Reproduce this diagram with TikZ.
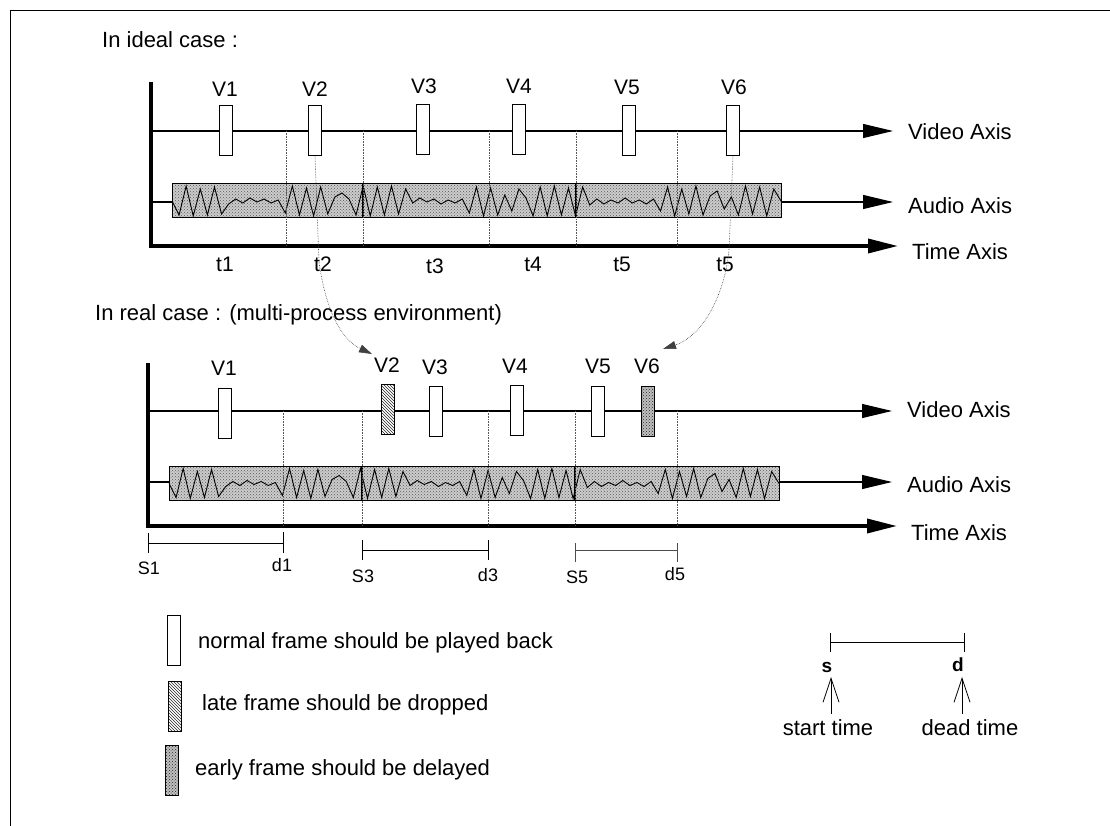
\documentclass[tikz,border=0pt]{standalone}
\usepackage{fontspec}
\setmainfont{Liberation Sans}
\usetikzlibrary{arrows.meta,patterns}
\begin{document}
\begin{tikzpicture}[x=1pt,y=-1pt,
  bigfont/.style={font=\fontsize{22}{26}\selectfont, inner sep=0pt},
  lab/.style={font=\fontsize{21}{24}\selectfont, inner sep=0pt},
  smalllab/.style={font=\fontsize{18}{21}\selectfont, inner sep=0pt},
  boldlab/.style={font=\bfseries\fontsize{19}{22}\selectfont, inner sep=0pt},
  frm/.style={draw, line width=1pt, minimum width=13pt, minimum height=50pt, inner sep=0pt},
  normalfrm/.style={frm, fill=white},
  latefrm/.style={frm, preaction={fill=white}, pattern=north west lines, pattern color=black!85},
  earlyfrm/.style={frm, preaction={fill=gray!50}, pattern=crosshatch dots, pattern color=black!85},
  audiobox/.style={draw, line width=1pt, inner sep=0pt, minimum height=34pt, preaction={fill=gray!40}, pattern=crosshatch dots, pattern color=black!65},
  axisthin/.style={line width=1.1pt, -{Triangle[length=30pt,width=14pt]}},
  axisthick/.style={line width=3.5pt, -{Triangle[length=30pt,width=14pt]}},
  vaxis/.style={line width=3.5pt},
  guide/.style={densely dotted, line width=0.6pt, black!65},
  curvearrow/.style={densely dotted, line width=0.6pt, black!75, -{Triangle[length=13pt,width=8pt]}},
  wave/.style={line width=0.9pt},
  bar/.style={line width=0.9pt},
  uparrow/.style={line width=0.8pt, -{Straight Barb[length=24pt,width=16pt]}}
]
\useasboundingbox (0,0) rectangle (1110,826);
% border
\draw[line width=0.8pt] (10,826) -- (10,10) -- (1110,10);

% ================= TOP PANEL =================
\node[bigfont, anchor=west] (title1) at (102,40) {In ideal case :};

\coordinate (ya1) at (151,82);
\coordinate (o1) at (151,246);
\coordinate (ta1) at (898,246);
\coordinate (vs1) at (151,131);
\coordinate (ve1) at (893,131);
\coordinate (as1) at (151,202);
\coordinate (ae1) at (893,202);

\draw[axisthin] (vs1) -- (ve1);
\draw[axisthin] (as1) -- (ae1);

\node[audiobox, minimum width=609pt] (ab1) at (476.5,201) {};
\draw[wave, shift={(172,201)}] (0,0)
  \foreach \y [count=\i] in {14,-15,15,-12,14,-14,13, 3,-2,2,-3,1,-2,2,-1,
   12,-15,14,-13,15,-14,13,-4, -8,-2,14,-15,15,-14, 14,-15,13,-12,2,-3,1,-2,
   3,-1,2,-2,12,-14,15,-13, 14,-6,10,-12,-3,15,-14,15, -15,14,-13,15,-14,4,-2,3,
   -1,2,-3,2,-1,3,-2,10, -14,15,-12,13,-15,14,-5,-10, 8,-4,14,-15,13,-14,15,-12}
  { -- (\i*7.08,\y) } -- (609,0);
\draw[line width=1.2pt] (363,184) -- (363,218);
\draw[line width=1.2pt] (576,184) -- (576,218);

\draw[vaxis] (ya1) -- (o1);
\draw[axisthick] ([xshift=-1.75pt]o1) -- (ta1);

\node[bigfont, anchor=west] (vl1) at (908,132) {Video Axis};
\node[bigfont, anchor=west] (al1) at (908,206) {Audio Axis};
\node[bigfont, anchor=west] (tl1) at (912,252) {Time Axis};

\foreach \x in {286,363,489,576,677}
  \draw[guide] (\x,131) -- (\x,245);

\node[normalfrm] (a1) at (226,131) {};
\node[normalfrm] (a2) at (315,131) {};
\node[normalfrm] (a3) at (423,130) {};
\node[normalfrm] (a4) at (519,130) {};
\node[normalfrm] (a5) at (629,131) {};
\node[normalfrm] (a6) at (733,131) {};

\node[lab] (la1) at (225,89) {V1};
\node[lab] (la2) at (315,89) {V2};
\node[lab] (la3) at (424,86) {V3};
\node[lab] (la4) at (519,86) {V4};
\node[lab] (la5) at (627,87) {V5};
\node[lab] (la6) at (734,87) {V6};

\node[lab] (t1) at (225,264) {t1};
\node[lab] (t2) at (323,264) {t2};
\node[lab] (t3) at (435,266) {t3};
\node[lab] (t4) at (533,264) {t4};
\node[lab] (t5) at (622,264) {t5};
\node[lab] (t6) at (725,264) {t5};

% ================= BOTTOM PANEL =================
\node[bigfont, anchor=west] (title2) at (95,315) {In real case : (multi-process environment)};

\coordinate (yb1) at (148,363);
\coordinate (o2) at (148,526);
\coordinate (tb1) at (897,526);
\coordinate (vs2) at (148,411);
\coordinate (ve2) at (892,411);
\coordinate (as2) at (148,482);
\coordinate (ae2) at (892,482);

\draw[axisthin] (vs2) -- (ve2);
\draw[axisthin] (as2) -- (ae2);

\node[audiobox, minimum width=610pt] (ab2) at (474,483.5) {};
\draw[wave, shift={(169,483.5)}] (0,0)
  \foreach \y [count=\i] in {14,-15,15,-12,14,-14,13, 3,-2,2,-3,1,-2,2,-1,
   12,-15,14,-13,15,-14,13,-4, -8,-2,14,-15,15,-14, 14,-15,13,-12,2,-3,1,-2,
   3,-1,2,-2,12,-14,15,-13, 14,-6,10,-12,-3,15,-14,15, -15,14,-13,15,-14,4,-2,3,
   -1,2,-3,2,-1,3,-2,10, -14,15,-12,13,-15,14,-5,-10, 8,-4,14,-15,13,-14,15,-12}
  { -- (\i*7.09,\y) } -- (610,0);
\draw[line width=1.2pt] (362,466.5) -- (362,500.5);
\draw[line width=1.2pt] (575,466.5) -- (575,500.5);

\draw[vaxis] (yb1) -- (o2);
\draw[axisthick] ([xshift=-1.75pt]o2) -- (tb1);

\node[bigfont, anchor=west] (vl2) at (907,410) {Video Axis};
\node[bigfont, anchor=west] (al2) at (907,485) {Audio Axis};
\node[bigfont, anchor=west] (tl2) at (911,533) {Time Axis};

\foreach \x in {283,362,488,575,677}
  \draw[guide] (\x,411) -- (\x,525);

\node[normalfrm] (b1) at (225,413) {};
\node[latefrm]   (b2) at (388,409) {};
\node[normalfrm] (b3) at (436,411) {};
\node[normalfrm] (b4) at (517,410) {};
\node[normalfrm] (b5) at (598,411) {};
\node[earlyfrm]  (b6) at (648,411) {};

\node[lab] (lb1) at (224,368) {V1};
\node[lab] (lb2) at (387,365) {V2};
\node[lab] (lb3) at (435,367) {V3};
\node[lab] (lb4) at (515,366) {V4};
\node[lab] (lb5) at (598,366) {V5};
\node[lab] (lb6) at (647,366) {V6};

% intervals
\coordinate (s1a) at (148,533); \coordinate (s1b) at (148,553);
\coordinate (d1a) at (283,532); \coordinate (d1b) at (283,553);
\draw[bar] (s1a) -- (s1b);
\draw[bar] (d1a) -- (d1b);
\draw[bar] (148,543) -- (283,543);
\coordinate (s3a) at (362,540); \coordinate (s3b) at (362,560);
\coordinate (d3a) at (488,540); \coordinate (d3b) at (488,560);
\draw[bar] (s3a) -- (s3b);
\draw[bar] (d3a) -- (d3b);
\draw[bar] (362,550) -- (488,550);
\coordinate (s5a) at (575,543); \coordinate (s5b) at (575,562);
\coordinate (d5a) at (677,543); \coordinate (d5b) at (677,562);
\draw[bar, black!70] (s5a) -- (s5b);
\draw[bar, black!70] (d5a) -- (d5b);
\draw[bar, black!70] (575,550) -- (677,550);

\node[smalllab] (S1) at (149,568) {S1};
\node[smalllab] (D1) at (282,565) {d1};
\node[smalllab] (S3) at (363,576) {S3};
\node[smalllab] (D3) at (488,575) {d3};
\node[smalllab] (S5) at (577,577) {S5};
\node[smalllab] (D5) at (675,574) {d5};

% curved arrows
\coordinate (c1) at (372,354);
\coordinate (c2) at (663,349);
\draw[curvearrow] (a2.south) -- (319,262) .. controls (326,312) and (342,340) .. (c1);
\draw[curvearrow] (a6.south) -- (729,250) .. controls (724,300) and (700,337) .. (c2);

% ================= LEGEND =================
\node[normalfrm] (k1) at (174,640) {};
\node[latefrm]   (k2) at (175,706) {};
\node[earlyfrm]  (k3) at (172,770) {};
\node[bigfont, anchor=west] (kt1) at (198,643) {normal frame should be played back};
\node[bigfont, anchor=west] (kt2) at (202,705) {late frame should be dropped};
\node[bigfont, anchor=west] (kt3) at (195,770) {early frame should be delayed};

\coordinate (ls1) at (830,633); \coordinate (ls2) at (830,652);
\coordinate (ld1) at (964,633); \coordinate (ld2) at (964,652);
\draw[bar] (ls1) -- (ls2);
\draw[bar] (ld1) -- (ld2);
\draw[bar] (830,642) -- (964,642);
\node[boldlab] (ss) at (827,667) {s};
\node[boldlab] (dd) at (958,665) {d};
\coordinate (sup1) at (831,714);
\coordinate (sup2) at (831,677);
\coordinate (dup1) at (962,714);
\coordinate (dup2) at (962,677);
\draw[uparrow] (sup1) -- (sup2);
\draw[uparrow] (dup1) -- (dup2);
\node[bigfont] (st) at (828,728) {start time};
\node[bigfont] (dt) at (970,728) {dead time};
\end{tikzpicture}
\end{document}
